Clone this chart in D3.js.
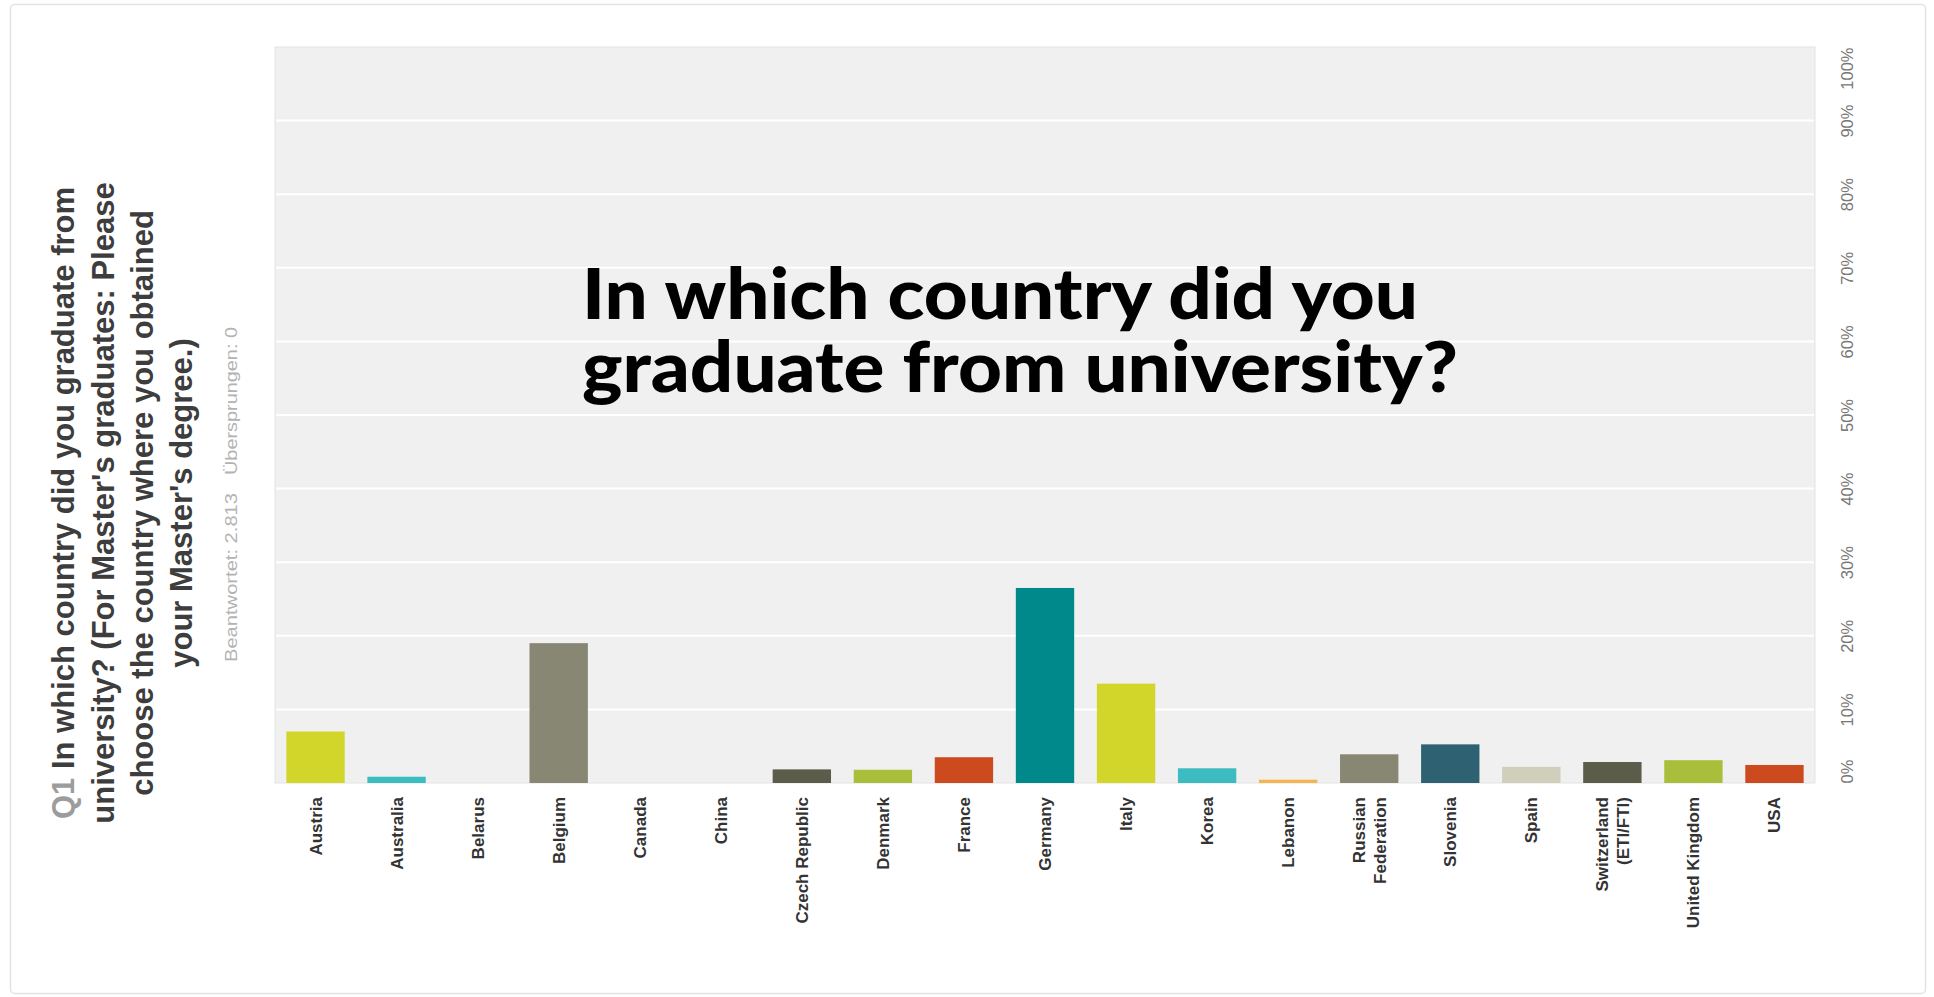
<!DOCTYPE html>
<html>
<head>
<meta charset="utf-8">
<script src="https://cdn.jsdelivr.net/npm/d3@7"></script>
<style>
  html, body { margin: 0; padding: 0; background: #ffffff; }
  svg { display: block; }
</style>
</head>
<body>
<svg id="chart" width="1934" height="997"></svg>
<script>
// Survey answers: country of graduation (share of respondents, %)
const categories = [
  "Austria", "Australia", "Belarus", "Belgium", "Canada", "China",
  "Czech Republic", "Denmark", "France", "Germany", "Italy", "Korea",
  "Lebanon", "Russian\nFederation", "Slovenia", "Spain",
  "Switzerland\n(ETI/FTI)", "United Kingdom", "USA"
];
const shares = [
  7.0, 0.85, 0, 19.0, 0, 0,
  1.85, 1.8, 3.5, 26.5, 13.5, 2.0,
  0.45, 3.9, 5.25, 2.2,
  2.85, 3.1, 2.45
];
// Ten-colour palette, cycled over the answer options
const palette = [
  "#d2d52a", "#3cbcc0", "#f4b54f", "#878774", "#2e6171",
  "#cfcfbb", "#5c5c4a", "#a9be3b", "#cc4a1d", "#00898a"
];
const yTicks = [0, 10, 20, 30, 40, 50, 60, 70, 80, 90, 100];

const questionNo = "Q1";
const questionLines = [
  "In which country did you graduate from",
  "university? (For Master's graduates: Please",
  "choose the country where you obtained",
  "your Master's degree.)"
];
const answeredText = "Beantwortet: 2.813";
const skippedText = "Übersprungen: 0";
const headline = ["In which country did you", "graduate from university?"];

const svg = d3.select("#chart");

// outer card frame
svg.append("rect")
  .attr("x", 10.5).attr("y", 4.5)
  .attr("width", 1915).attr("height", 989)
  .attr("rx", 4)
  .attr("fill", "#ffffff")
  .attr("stroke", "#e3e3e3")
  .attr("stroke-width", 1.5);

const plot = { left: 275, right: 1815, top: 47, bottom: 783 };

const x = d3.scaleBand()
  .domain(categories)
  .range([plot.left, plot.right])
  .paddingInner(0.28)
  .paddingOuter(0.14);

const y = d3.scaleLinear()
  .domain([0, 100])
  .range([plot.bottom, plot.top]);

// plot background
svg.append("rect")
  .attr("x", plot.left).attr("y", plot.top)
  .attr("width", plot.right - plot.left)
  .attr("height", plot.bottom - plot.top)
  .attr("fill", "#f0f0f0")
  .attr("stroke", "#e4e4e4")
  .attr("stroke-width", 1);

// horizontal grid lines
svg.append("g")
  .selectAll("line")
  .data(yTicks.filter(d => d > 0 && d < 100))
  .join("line")
  .attr("x1", plot.left + 1).attr("x2", plot.right - 1)
  .attr("y1", d => y(d)).attr("y2", d => y(d))
  .attr("stroke", "#ffffff")
  .attr("stroke-width", 2);

// bars
svg.append("g")
  .selectAll("rect")
  .data(categories.map((c, i) => ({ c, v: shares[i], i })))
  .join("rect")
  .attr("x", d => x(d.c))
  .attr("width", x.bandwidth())
  .attr("y", d => y(d.v))
  .attr("height", d => y(0) - y(d.v))
  .attr("fill", d => palette[d.i % palette.length]);

// right-hand percentage axis, labels rotated
const yAxis = svg.append("g")
  .attr("transform", `translate(1853,0)`)
  .call(d3.axisRight(y).tickValues(yTicks).tickFormat(d => d + "%").tickSize(0));
yAxis.select(".domain").remove();
yAxis.selectAll("text")
  .attr("x", 0).attr("y", 0).attr("dy", null)
  .attr("transform", "rotate(-90)")
  .attr("text-anchor", d => d === 0 ? "start" : (d === 100 ? "end" : "middle"))
  .attr("font-family", "'Liberation Sans', Arial, sans-serif")
  .attr("font-size", 16.5)
  .attr("fill", "#777777");

// category axis, labels rotated
const xAxis = svg.append("g")
  .attr("transform", `translate(0,${plot.bottom})`)
  .call(d3.axisBottom(x).tickSize(0));
xAxis.select(".domain").remove();
xAxis.selectAll("text").each(function (d) {
  const lines = d.split("\n");
  const t = d3.select(this)
    .text(null)
    .attr("x", 0).attr("y", 0).attr("dy", null)
    .attr("text-anchor", "end")
    .attr("font-family", "'Liberation Sans', Arial, sans-serif")
    .attr("font-weight", "bold")
    .attr("font-size", 17)
    .attr("fill", "#333333");
  const offset = 6 - (lines.length - 1) * 10.5;
  t.attr("transform", `translate(${offset},14) rotate(-90)`);
  lines.forEach((ln, k) => {
    t.append("tspan")
      .attr("x", 0)
      .attr("y", k * 21)
      .text(ln);
  });
});

// question text on the left, rotated
const qCenterY = 503;
const qBaselines = [74, 114, 153, 192];
questionLines.forEach((ln, i) => {
  const t = svg.append("text")
    .attr("transform", `translate(${qBaselines[i]},${qCenterY}) rotate(-90)`)
    .attr("text-anchor", "middle")
    .attr("font-family", "'Liberation Sans', Arial, sans-serif")
    .attr("font-weight", "bold")
    .attr("font-size", 31)
    .attr("fill", "#3d3d3d");
  if (i === 0) {
    t.append("tspan").attr("fill", "#9c9c9c").text(questionNo + " ");
  }
  t.append("tspan").text(ln);
});

// answered / skipped counts
svg.append("text")
  .attr("transform", `translate(237,662) rotate(-90)`)
  .attr("text-anchor", "start")
  .attr("font-family", "'Liberation Sans', Arial, sans-serif")
  .attr("font-size", 17)
  .attr("textLength", 169)
  .attr("lengthAdjust", "spacingAndGlyphs")
  .attr("fill", "#b3b3b3")
  .text(answeredText);
svg.append("text")
  .attr("transform", `translate(237,327) rotate(-90)`)
  .attr("text-anchor", "end")
  .attr("font-family", "'Liberation Sans', Arial, sans-serif")
  .attr("font-size", 17)
  .attr("textLength", 148)
  .attr("lengthAdjust", "spacingAndGlyphs")
  .attr("fill", "#b3b3b3")
  .text(skippedText);

// large headline over the plot
const headBaselines = [319, 392];
const headLengths = [836, 876];
headline.forEach((ln, i) => {
  svg.append("text")
    .attr("x", 582)
    .attr("y", headBaselines[i])
    .attr("font-family", "Lato, 'Open Sans', sans-serif")
    .attr("font-weight", 900)
    .attr("font-size", 70)
    .attr("textLength", headLengths[i])
    .attr("lengthAdjust", "spacingAndGlyphs")
    .attr("fill", "#000000")
    .text(ln);
});
</script>
</body>
</html>
